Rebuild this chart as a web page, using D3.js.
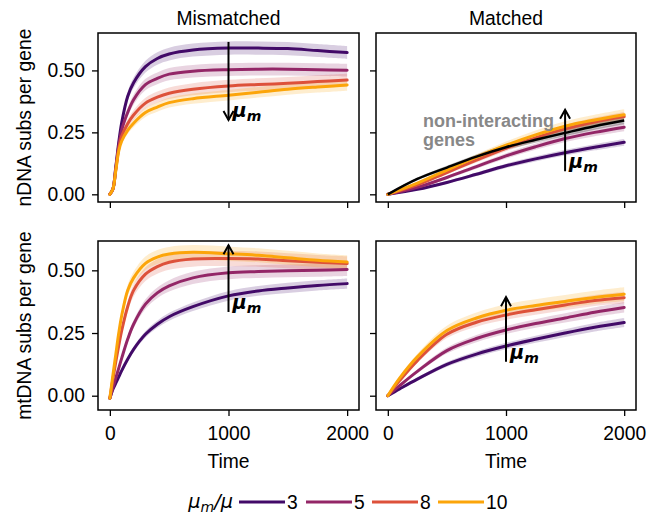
<!DOCTYPE html>
<html>
<head>
<meta charset="utf-8">
<script src="https://cdn.jsdelivr.net/npm/d3@7"></script>
<style>
body { margin: 0; background: #fff; }
text { font-family: "Liberation Sans", Arial, sans-serif; font-size: 19.3px; fill: #000; }
.axis path { display: none; }
.axis line { stroke: #000; stroke-width: 1.3px; }
.frame { fill: none; stroke: #000; stroke-width: 1.5px; }
.mu { font-family: "DejaVu Sans", sans-serif; font-style: italic; }
</style>
</head>
<body>
<script>
// time grids
var tMis = [0, 25, 50, 75, 100, 150, 200, 300, 400, 500, 700, 1000, 1250, 1500, 1750, 2000];
var tMat = [0, 250, 500, 750, 1000, 1250, 1500, 1750, 2000];
var tMtMat = [0, 100, 250, 500, 750, 1000, 1250, 1500, 1750, 2000];

var ratios = ["3", "5", "8", "10"];

// nDNA, mismatched
var nMis3  = [0, 0.02, 0.11, 0.21, 0.29, 0.395, 0.45, 0.515, 0.548, 0.566, 0.582, 0.59, 0.59, 0.588, 0.58, 0.572];
var nMis5  = [0, 0.02, 0.105, 0.195, 0.26, 0.33, 0.382, 0.443, 0.468, 0.485, 0.497, 0.503, 0.505, 0.505, 0.503, 0.501];
var nMis8  = [0, 0.02, 0.10, 0.185, 0.235, 0.285, 0.32, 0.368, 0.392, 0.408, 0.424, 0.437, 0.443, 0.448, 0.455, 0.461];
var nMis10 = [0, 0.02, 0.095, 0.175, 0.215, 0.258, 0.287, 0.33, 0.352, 0.37, 0.386, 0.40, 0.412, 0.424, 0.433, 0.441];

// nDNA, matched (plus non-interacting genes)
var nMat3  = [0, 0.02, 0.048, 0.081, 0.115, 0.143, 0.168, 0.19, 0.21];
var nMat5  = [0, 0.028, 0.068, 0.112, 0.155, 0.192, 0.225, 0.25, 0.271];
var nMat8  = [0, 0.038, 0.088, 0.138, 0.186, 0.228, 0.264, 0.292, 0.314];
var nMat10 = [0, 0.045, 0.098, 0.15, 0.198, 0.24, 0.275, 0.30, 0.321];
var nMatNI = [0, 0.062, 0.108, 0.152, 0.19, 0.22, 0.248, 0.275, 0.298];

// mtDNA, mismatched
var mtMis3  = [-0.01, 0.025, 0.05, 0.075, 0.10, 0.145, 0.185, 0.245, 0.285, 0.315, 0.355, 0.398, 0.418, 0.43, 0.44, 0.447];
var mtMis5  = [-0.01, 0.03, 0.07, 0.11, 0.15, 0.225, 0.285, 0.365, 0.41, 0.438, 0.47, 0.49, 0.495, 0.498, 0.50, 0.503];
var mtMis8  = [-0.01, 0.065, 0.135, 0.20, 0.26, 0.355, 0.42, 0.485, 0.515, 0.532, 0.545, 0.547, 0.545, 0.538, 0.532, 0.527];
var mtMis10 = [-0.01, 0.08, 0.165, 0.25, 0.32, 0.42, 0.47, 0.528, 0.553, 0.565, 0.572, 0.566, 0.56, 0.55, 0.54, 0.533];

// mtDNA, matched
var mtMat3  = [0, 0.027, 0.066, 0.125, 0.166, 0.198, 0.225, 0.25, 0.273, 0.292];
var mtMat5  = [0, 0.04, 0.097, 0.18, 0.228, 0.262, 0.288, 0.31, 0.333, 0.352];
var mtMat8  = [0, 0.06, 0.14, 0.245, 0.293, 0.322, 0.343, 0.362, 0.38, 0.391];
var mtMat10 = [0, 0.07, 0.155, 0.26, 0.31, 0.341, 0.36, 0.376, 0.392, 0.405];

// relative half-width of the shaded bands
var bandMis = [0.04, 0.045, 0.05, 0.045];
var bandMat = [0.05, 0.05, 0.05, 0.06];

var xTicks = [0, 1000, 2000];
var yTicks = [0, 0.25, 0.5];

var colors = ["#420a68", "#932667", "#dd513a", "#fca50a"];

var svg = d3.select("body").append("svg")
    .attr("width", 648)
    .attr("height", 516);

var panels = [
  {left: 98, top: 33, w: 261, t: tMis, s: [nMis3, nMis5, nMis8, nMis10], band: bandMis,
   y: [-0.031, 0.651], arrow: [1000, 0.615, 0.30], title: "Mismatched", ylab: "nDNA subs per gene", xlab: false},
  {left: 376, top: 33, w: 260, t: tMat, s: [nMat3, nMat5, nMat8, nMat10], band: bandMat,
   y: [-0.031, 0.651], arrow: [1500, 0.093, 0.341], title: "Matched", ylab: null, xlab: false, ni: nMatNI},
  {left: 98, top: 241, w: 261, t: tMis, s: [mtMis3, mtMis5, mtMis8, mtMis10], band: bandMis,
   y: [-0.057, 0.617], arrow: [1000, 0.334, 0.60], title: null, ylab: "mtDNA subs per gene", xlab: true},
  {left: 376, top: 241, w: 260, t: tMtMat, s: [mtMat3, mtMat5, mtMat8, mtMat10], band: bandMat,
   y: [-0.057, 0.617], arrow: [1000, 0.135, 0.393], title: null, ylab: null, xlab: true}
];
var height = 169;

panels.forEach(function(p, pi) {
  var g = svg.append("g")
      .attr("transform", "translate(" + p.left + "," + p.top + ")");

  var x = d3.scaleLinear().domain([-100, 2100]).range([0, p.w]);
  var y = d3.scaleLinear().domain(p.y).range([height, 0]);

  // Add the X Axis
  g.append("g")
      .attr("class", "axis")
      .attr("transform", "translate(0," + height + ")")
      .call(d3.axisBottom(x).tickValues(xTicks).tickSize(6).tickPadding(10)
             .tickFormat(p.xlab ? d3.format("d") : function() { return ""; }));

  // Add the Y Axis
  g.append("g")
      .attr("class", "axis")
      .call(d3.axisLeft(y).tickValues(yTicks).tickSize(6).tickPadding(7)
             .tickFormat(pi % 2 == 0 ? d3.format(".2f") : function() { return ""; }));

  var area = d3.area()
      .curve(d3.curveCatmullRom.alpha(0.5))
      .x(function(d) { return x(d[0]); })
      .y0(function(d) { return y(d[1] - d[2]); })
      .y1(function(d) { return y(d[1] + d[2]); });

  var line = d3.line()
      .curve(d3.curveCatmullRom.alpha(0.5))
      .x(function(d) { return x(d[0]); })
      .y(function(d) { return y(d[1]); });

  var clip = "clip" + pi;
  g.append("clipPath").attr("id", clip)
    .append("rect").attr("width", p.w).attr("height", height);
  var plot = g.append("g").attr("clip-path", "url(#" + clip + ")");

  //Add bands
  p.s.forEach(function(vals, i) {
    var pts = vals.map(function(v, k) { return [p.t[k], v, Math.abs(v) * p.band[i] + 0.003]; });
    plot.append("path")
        .datum(pts)
        .attr("fill", colors[i])
        .attr("fill-opacity", 0.2)
        .attr("d", area);
  });
  if (p.ni) {
    var niPts = p.ni.map(function(v, k) { return [p.t[k], v, v * 0.04 + 0.003]; });
    plot.append("path")
        .datum(niPts)
        .attr("fill", "#000")
        .attr("fill-opacity", 0.25)
        .attr("d", area);
  }

  //Add lines
  p.s.forEach(function(vals, i) {
    var pts = vals.map(function(v, k) { return [p.t[k], v]; });
    plot.append("path")
        .datum(pts)
        .attr("fill", "none")
        .attr("stroke", colors[i])
        .attr("stroke-width", 3)
        .attr("stroke-linecap", "round")
        .attr("d", line);
  });
  if (p.ni) {
    plot.append("path")
        .datum(p.ni.map(function(v, k) { return [p.t[k], v]; }))
        .attr("fill", "none")
        .attr("stroke", "#000")
        .attr("stroke-width", 2.5)
        .attr("d", line);

    var ni = g.append("text")
        .attr("x", 47)
        .attr("y", 94)
        .style("fill", "#888")
        .style("font-size", "18px")
        .style("font-weight", "bold");
    ni.append("tspan").attr("x", 47).text("non-interacting");
    ni.append("tspan").attr("x", 47).attr("dy", 19).text("genes");
  }

  // frame
  g.append("rect")
      .attr("class", "frame")
      .attr("width", p.w)
      .attr("height", height);

  //Add arrow
  var ax = x(p.arrow[0]), a0 = y(p.arrow[1]), a1 = y(p.arrow[2]);
  var dir = a1 > a0 ? 1 : -1;
  g.append("line")
      .attr("x1", ax).attr("y1", a0)
      .attr("x2", ax).attr("y2", a1)
      .attr("stroke", "#000")
      .attr("stroke-width", 2);
  g.append("path")
      .attr("d", "M" + (ax - 5) + "," + (a1 - dir * 9) + "L" + ax + "," + a1 + "L" + (ax + 5) + "," + (a1 - dir * 9))
      .attr("fill", "none")
      .attr("stroke", "#000")
      .attr("stroke-width", 2);

  var mu = g.append("text")
      .attr("class", "mu")
      .attr("x", ax + 4)
      .attr("y", Math.max(a0, a1) - 3)
      .style("font-weight", "bold");
  mu.append("tspan").text("μ");
  mu.append("tspan").attr("dy", 4).style("font-size", "14px").text("m");

  if (p.title) {
    g.append("text")
        .attr("x", p.w / 2)
        .attr("y", -8)
        .attr("text-anchor", "middle")
        .text(p.title);
  }
  if (p.ylab) {
    g.append("text")
        .attr("transform", "translate(" + (31 - p.left) + "," + (height / 2) + ") rotate(-90)")
        .attr("text-anchor", "middle")
        .text(p.ylab);
  }
  if (p.xlab) {
    g.append("text")
        .attr("x", p.w / 2)
        .attr("y", 227)
        .attr("text-anchor", "middle")
        .text("Time");
  }
});

//Add legend
var leg = svg.append("g").attr("transform", "translate(0,502)");
var lt = leg.append("text")
    .attr("class", "mu")
    .attr("x", 233)
    .attr("y", 6)
    .attr("text-anchor", "end");
lt.append("tspan").text("μ");
lt.append("tspan").attr("dy", 4).style("font-size", "14px").text("m");
lt.append("tspan").attr("dy", -4).text("/μ");

var legX = [239, 306, 372, 438];
ratios.forEach(function(r, i) {
  leg.append("line")
      .attr("x1", legX[i]).attr("x2", legX[i] + 46)
      .attr("y1", 0).attr("y2", 0)
      .attr("stroke", colors[i])
      .attr("stroke-width", 3);
  leg.append("text")
      .attr("x", legX[i] + 48)
      .attr("y", 7)
      .text(r);
});
</script>
</body>
</html>
